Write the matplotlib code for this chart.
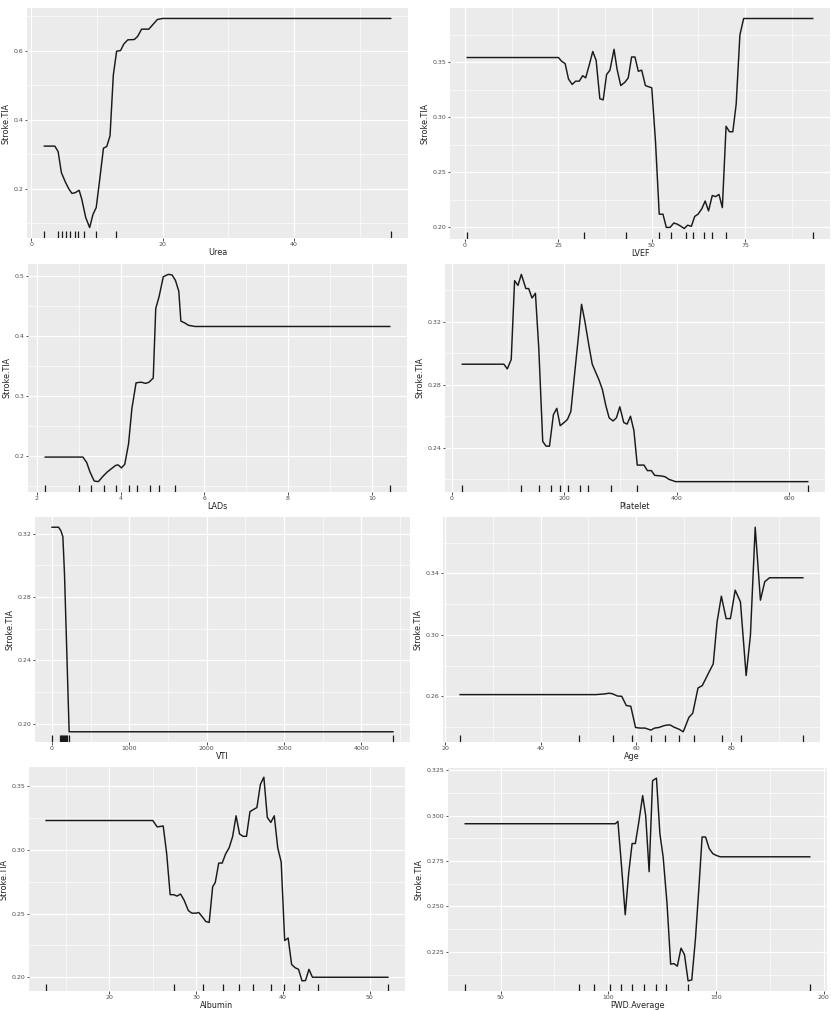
import matplotlib
matplotlib.use("Agg")
import matplotlib.pyplot as plt
import matplotlib.transforms as mtransforms
from matplotlib.ticker import FixedLocator, AutoMinorLocator

# partial dependence curves (x, yhat)
urea_x = [2.0, 3.6, 4.1, 4.6, 5.2, 5.7, 6.2, 6.7, 7.3, 7.7, 8.3, 8.9, 9.4, 9.9, 10.4, 11.0, 11.5, 12.0,
          12.5, 13.0, 13.6, 14.1, 14.7, 15.7, 16.2, 16.8, 17.9, 18.6, 19.2, 20.0, 54.7]
urea_y = [0.323, 0.323, 0.307, 0.246, 0.219, 0.200, 0.186, 0.188, 0.195, 0.169, 0.116, 0.087, 0.125, 0.145,
          0.222, 0.317, 0.322, 0.353, 0.529, 0.598, 0.600, 0.619, 0.631, 0.632, 0.641, 0.662, 0.662, 0.677,
          0.690, 0.693, 0.693]
urea_rug = [2.0, 4.1, 4.7, 5.3, 5.9, 6.6, 7.2, 8.1, 9.8, 12.9, 54.8]

lvef_x = [0.6, 25.0, 25.9, 26.8, 27.7, 28.7, 29.6, 30.6, 31.5, 32.3, 33.2, 34.2, 35.1, 36.1, 37.0, 37.9,
          38.8, 39.9, 40.7, 41.7, 42.8, 43.7, 44.6, 45.5, 46.4, 47.3, 48.3, 49.1, 50.0, 51.0, 52.0, 53.0,
          53.9, 54.9, 55.9, 56.8, 57.8, 58.7, 59.6, 60.6, 61.5, 62.4, 63.4, 64.3, 65.2, 66.2, 67.1, 68.0,
          68.9, 69.9, 70.8, 71.7, 72.6, 73.6, 74.6, 93.1]
lvef_y = [0.3545, 0.3545, 0.351, 0.349, 0.335, 0.330, 0.333, 0.333, 0.338, 0.336, 0.347, 0.360, 0.352,
          0.317, 0.316, 0.339, 0.343, 0.362, 0.344, 0.329, 0.332, 0.336, 0.355, 0.355, 0.342, 0.343, 0.329,
          0.328, 0.327, 0.278, 0.212, 0.212, 0.200, 0.200, 0.204, 0.203, 0.201, 0.199, 0.202, 0.201, 0.210,
          0.212, 0.217, 0.224, 0.215, 0.229, 0.228, 0.230, 0.218, 0.292, 0.287, 0.287, 0.312, 0.375, 0.390,
          0.390]
lvef_rug = [0.6, 31.9, 43.0, 52.0, 55.2, 59.1, 61.1, 64.0, 66.0, 69.8, 93.1]

lads_x = [2.2, 3.1, 3.19, 3.27, 3.37, 3.47, 3.58, 3.68, 3.77, 3.88, 3.94, 4.02, 4.10, 4.19, 4.27, 4.37,
          4.49, 4.60, 4.68, 4.78, 4.84, 4.92, 5.02, 5.14, 5.23, 5.31, 5.39, 5.44, 5.53, 5.62, 5.78, 10.43]
lads_y = [0.198, 0.198, 0.189, 0.173, 0.158, 0.157, 0.166, 0.173, 0.178, 0.184, 0.185, 0.180, 0.186,
          0.220, 0.279, 0.322, 0.323, 0.321, 0.323, 0.330, 0.446, 0.466, 0.499, 0.503, 0.502, 0.493, 0.475,
          0.425, 0.422, 0.418, 0.416, 0.416]
lads_rug = [2.2, 3.0, 3.29, 3.6, 3.9, 4.2, 4.4, 4.7, 4.91, 5.31, 10.43]

plt_x = [19, 93, 99, 106, 112, 118, 124, 132, 137, 143, 149, 155, 162, 168, 174, 181, 187, 193, 200,
         206, 212, 219, 225, 231, 237, 244, 250, 256, 262, 268, 274, 280, 287, 293, 299, 306, 312, 318,
         324, 330, 342, 348, 355, 361, 375, 380, 386, 398, 633]
plt_y = [0.293, 0.293, 0.290, 0.296, 0.346, 0.343, 0.350, 0.341, 0.341, 0.335, 0.338, 0.303, 0.244,
         0.241, 0.241, 0.261, 0.265, 0.254, 0.256, 0.258, 0.263, 0.288, 0.309, 0.331, 0.320, 0.305, 0.293,
         0.288, 0.283, 0.277, 0.267, 0.259, 0.257, 0.259, 0.266, 0.256, 0.255, 0.260, 0.251, 0.229, 0.229,
         0.2255, 0.2255, 0.2225, 0.222, 0.2215, 0.220, 0.2185, 0.2185]
plt_rug = [19, 124, 156, 176, 192, 207, 228, 243, 284, 329, 634]

vti_x = [0, 85, 115, 140, 161, 221, 4408]
vti_y = [0.324, 0.324, 0.3217, 0.318, 0.2945, 0.195, 0.195]
vti_rug = [0, 106, 118, 130, 142, 154, 166, 180, 195, 218, 4408]

age_x = [23.1, 51.5, 53.3, 54.3, 55.0, 56.1, 57.0, 57.96, 58.9, 59.9, 60.8, 61.9, 63.1, 63.9, 64.8, 65.8,
         66.5, 67.2, 67.9, 69.0, 69.9, 71.1, 71.9, 73.0, 73.9, 74.6, 75.3, 76.2, 77.0, 77.9, 78.9, 79.8,
         80.8, 81.9, 83.1, 84.0, 85.0, 86.1, 87.0, 88.0, 95.0]
age_y = [0.2611, 0.2611, 0.2615, 0.262, 0.2617, 0.2602, 0.260, 0.254, 0.2535, 0.2397, 0.2393, 0.2393,
         0.238, 0.2393, 0.2397, 0.2408, 0.2413, 0.2413, 0.240, 0.2386, 0.2369, 0.2463, 0.249, 0.2654, 0.267,
         0.2713, 0.2757, 0.2811, 0.3084, 0.3252, 0.3106, 0.3106, 0.3291, 0.3215, 0.2735, 0.2997, 0.3701,
         0.3226, 0.3346, 0.3372, 0.3372]
age_rug = [23.1, 48.1, 55.2, 59.2, 63.1, 66.1, 69.1, 72.1, 78.1, 82.1, 95.0]

alb_x = [12.7, 25.0, 25.5, 26.2, 26.6, 27.0, 27.4, 27.8, 28.2, 28.6, 29.1, 29.5, 30.0, 30.3, 30.8, 31.1,
         31.5, 31.9, 32.2, 32.6, 33.0, 33.4, 33.8, 34.2, 34.6, 35.0, 35.4, 35.8, 36.2, 36.6, 37.0, 37.4,
         37.8, 38.2, 38.6, 39.0, 39.4, 39.8, 40.2, 40.6, 41.0, 41.4, 41.8, 42.2, 42.6, 43.0, 43.4, 52.1]
alb_y = [0.323, 0.323, 0.318, 0.3187, 0.297, 0.2648, 0.2648, 0.2637, 0.2653, 0.2606, 0.2523, 0.2503,
         0.2503, 0.2508, 0.2466, 0.2438, 0.243, 0.271, 0.2744, 0.2896, 0.2896, 0.2969, 0.3016, 0.3104,
         0.3267, 0.3124, 0.3106, 0.3106, 0.330, 0.3316, 0.3332, 0.3513, 0.357, 0.3254, 0.3215, 0.3267,
         0.3016, 0.2904, 0.2288, 0.2308, 0.210, 0.2075, 0.2062, 0.1972, 0.1974, 0.2062, 0.200, 0.200]
alb_rug = [12.7, 27.5, 30.8, 33.1, 34.9, 36.6, 38.6, 40.1, 41.9, 44.0, 52.1]

pwd_x = [33.6, 103.3, 104.5, 106.2, 107.9, 109.5, 111.1, 112.6, 114.2, 116.0, 117.4, 119.0, 120.6,
         122.4, 124.0, 125.5, 127.3, 129.0, 130.5, 132.1, 133.8, 135.4, 137.1, 138.8, 140.5, 142.1, 143.6,
         145.2, 146.9, 148.6, 150.3, 152.0, 193.6]
pwd_y = [0.2955, 0.2955, 0.2968, 0.2718, 0.2454, 0.2682, 0.2846, 0.2846, 0.2964, 0.311, 0.300, 0.2691,
         0.3192, 0.3206, 0.290, 0.2773, 0.2518, 0.2182, 0.2185, 0.2171, 0.2270, 0.2235, 0.209, 0.2095,
         0.2320, 0.2600, 0.2882, 0.2882, 0.2818, 0.2790, 0.2780, 0.2773, 0.2773]
pwd_rug = [33.6, 86.6, 93.6, 100.9, 106.1, 111.2, 116.7, 122.1, 126.8, 137.2, 193.6]

# tick values shown on each panel
urea_xt, urea_yt = [0, 20, 40], [0.2, 0.4, 0.6]
lvef_xt, lvef_yt = [0, 25, 50, 75], [0.20, 0.25, 0.30, 0.35]
lads_xt, lads_yt = [2, 4, 6, 8, 10], [0.2, 0.3, 0.4, 0.5]
plt_xt, plt_yt = [0, 200, 400, 600], [0.24, 0.28, 0.32]
vti_xt, vti_yt = [0, 1000, 2000, 3000, 4000], [0.20, 0.24, 0.28, 0.32]
age_xt, age_yt = [20, 40, 60, 80], [0.26, 0.30, 0.34]
alb_xt, alb_yt = [20, 30, 40, 50], [0.20, 0.25, 0.30, 0.35]
pwd_xt, pwd_yt = [50, 100, 150, 200], [0.225, 0.250, 0.275, 0.300, 0.325]

panels = [
    ("Urea", urea_x, urea_y, urea_rug, urea_xt, urea_yt, "{:g}", "{:.1f}"),
    ("LVEF", lvef_x, lvef_y, lvef_rug, lvef_xt, lvef_yt, "{:g}", "{:.2f}"),
    ("LADs", lads_x, lads_y, lads_rug, lads_xt, lads_yt, "{:g}", "{:.1f}"),
    ("Platelet", plt_x, plt_y, plt_rug, plt_xt, plt_yt, "{:g}", "{:.2f}"),
    ("VTI", vti_x, vti_y, vti_rug, vti_xt, vti_yt, "{:g}", "{:.2f}"),
    ("Age", age_x, age_y, age_rug, age_xt, age_yt, "{:g}", "{:.2f}"),
    ("Albumin", alb_x, alb_y, alb_rug, alb_xt, alb_yt, "{:g}", "{:.2f}"),
    ("PWD.Average", pwd_x, pwd_y, pwd_rug, pwd_xt, pwd_yt, "{:g}", "{:.3f}"),
]

# panel boxes in pixels: left, right, top, bottom
boxes = [(27, 408, 8, 238), (450, 830, 8, 239),
         (28, 407, 264, 492), (445, 825, 264, 492),
         (35, 410, 517, 742), (443, 820, 517, 742),
         (29, 405, 767, 991), (448, 827, 768, 991)]

W, H = 831, 1010
fig = plt.figure(figsize=(W / 100, H / 100), dpi=100)
fig.patch.set_facecolor("white")

for (name, xs, ys, rug, xt, yt, xf, yf), (l, r, t, b) in zip(panels, boxes):
    ax = fig.add_axes([l / W, 1 - b / H, (r - l) / W, (b - t) / H])
    ax.set_facecolor("#EBEBEB")
    for s in ax.spines.values():
        s.set_visible(False)
    ax.plot(xs, ys, color="#1a1a1a", lw=1.05, zorder=3)
    trans = mtransforms.blended_transform_factory(ax.transData, ax.transAxes)
    ax.vlines(rug, 0, 0.03, transform=trans, color="#1a1a1a", lw=0.9, zorder=3)

    # ggplot-like 5% expansion
    xr = max(xs) - min(xs)
    yr = max(ys) - min(ys)
    ax.set_xlim(min(xs) - 0.05 * xr, max(xs) + 0.05 * xr)
    ax.set_ylim(min(ys) - 0.05 * yr, max(ys) + 0.05 * yr)

    ax.xaxis.set_major_locator(FixedLocator(xt))
    ax.yaxis.set_major_locator(FixedLocator(yt))
    ax.set_xticklabels([xf.format(v) for v in xt])
    ax.set_yticklabels([yf.format(v) for v in yt])
    dx = xt[1] - xt[0]
    dy = yt[1] - yt[0]
    ax.xaxis.set_minor_locator(FixedLocator([xt[0] - dx / 2 + i * dx for i in range(len(xt) + 2)]))
    ax.yaxis.set_minor_locator(FixedLocator([yt[0] - dy / 2 + i * dy for i in range(len(yt) + 2)]))
    ax.grid(True, which="major", color="white", lw=0.9, zorder=0)
    ax.grid(True, which="minor", color="white", lw=0.45, zorder=0)
    ax.set_axisbelow(True)
    ax.tick_params(which="major", labelsize=4.5, length=1.8, width=0.6, color="#333333",
                   labelcolor="#4D4D4D", pad=1.0)
    ax.tick_params(which="minor", length=0)
    ax.set_xlabel(name, fontsize=5.8, labelpad=1.0, color="#222222")
    ax.set_ylabel("Stroke.TIA", fontsize=5.8, labelpad=2, color="#222222")

fig.savefig("out.png", dpi=100)
